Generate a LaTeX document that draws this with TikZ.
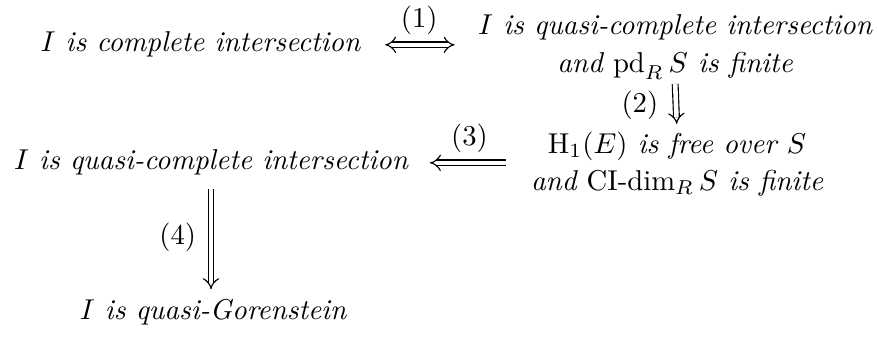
\documentclass[tikz,border=0pt]{standalone}
\usepackage{fontspec}
\usetikzlibrary{arrows.meta}
\begin{document}
\begin{tikzpicture}[x=0.3484pt,y=-0.3484pt,
  stmt/.style={font=\itshape, inner sep=0pt, align=center},
  lbl/.style={font=\upshape, inner sep=0pt},
  rails/.style={double, double distance=1.6pt, line width=0.4pt},
  impl/.style={rails, -{Implies}},
  equiv/.style={rails, {Implies}-{Implies}}]
\useasboundingbox (0,0) rectangle (877,338);
\node[stmt, anchor=base west] (A) at (40,52) {$I$ is complete intersection};
\node[stmt] (B) at (675,47) {$I$ is quasi-complete intersection\\[1pt] and $\mathrm{pd}_R\,S$ is finite};
\node[stmt] (C) at (677,164) {$\mathrm{H}_1(E)$ is free over $S$\\[1pt] and $\textup{CI-dim}_R\,S$ is finite};
\node[stmt, anchor=base] (D) at (211,170) {$I$ is quasi-complete intersection};
\node[stmt, anchor=base] (E) at (213,320) {$I$ is quasi-Gorenstein};
\draw[equiv, shorten <=8.5pt, shorten >=8pt] (A.east) -- node[lbl, above=3.5pt] (l1) {(1)} (A.east -| B.west);
\draw[impl, shorten <=1.5pt, shorten >=2.5pt] (B.south) -- node[lbl, left=6pt] (l2) {(2)} (C.north);
\draw[impl, shorten <=8.5pt, shorten >=7.5pt] (C.west |- D.east) -- node[lbl, above=3.5pt] (l3) {(3)} (D.east);
\draw[impl, shorten <=4.5pt, shorten >=3.5pt] (D.south) -- node[lbl, left=5pt] (l4) {(4)} (D.south |- E.north);
\end{tikzpicture}
\end{document}
